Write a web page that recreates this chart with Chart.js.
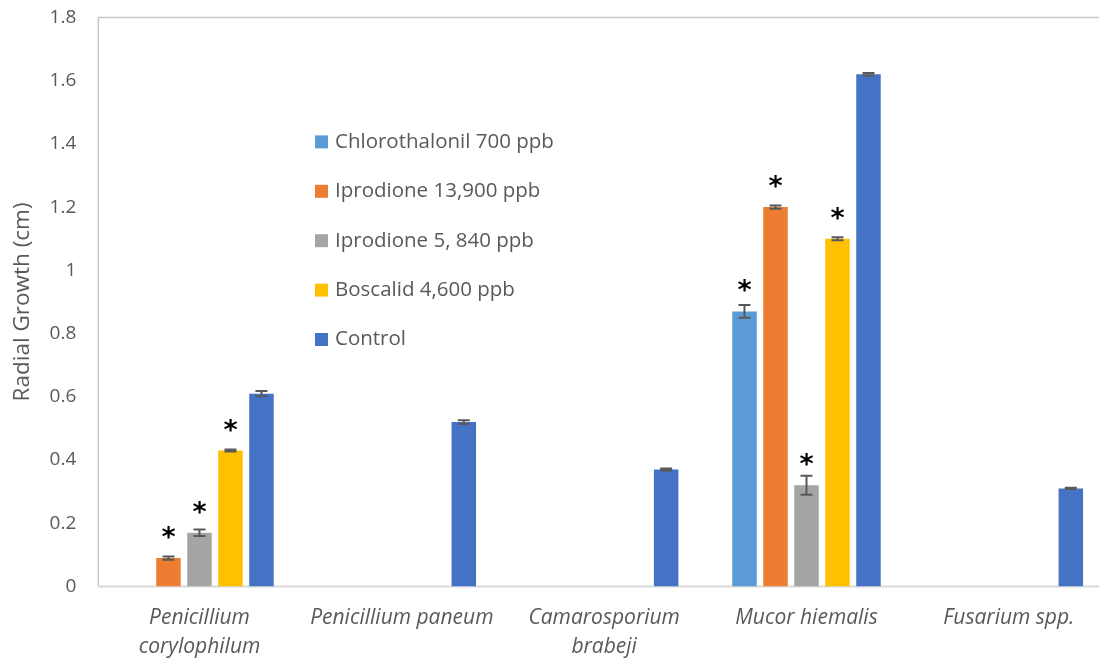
<!DOCTYPE html>
<html>
<head>
<meta charset="utf-8">
<title>Radial Growth</title>
<script src="https://cdn.jsdelivr.net/npm/chart.js@4/dist/chart.umd.min.js"></script>
<style>
	html, body { margin: 0; padding: 0; background: #fff; overflow: hidden; }
	#wrap { width: 1112px; height: 668px; margin-top: -8px; }
</style>
</head>
<body>
<div id="wrap"><canvas id="chart" width="1112" height="668"></canvas></div>
<script>
var categories = [
	["Penicillium", "corylophilum"],
	"Penicillium paneum",
	["Camarosporium", "brabeji"],
	"Mucor hiemalis",
	"Fusarium spp."
];

var seriesNames = [
	"Chlorothalonil 700 ppb",
	"Iprodione 13,900 ppb",
	"Iprodione 5, 840 ppb",
	"Boscalid 4,600 ppb",
	"Control"
];

// mean radial growth (cm), null where the treatment was not tested
var chlorothalonil = [null, null, null, 0.87, null];
var iprodioneHigh = [0.09, null, null, 1.20, null];
var iprodioneLow = [0.17, null, null, 0.32, null];
var boscalid = [0.43, null, null, 1.10, null];
var control = [0.61, 0.52, 0.37, 1.62, 0.31];

// standard error
var chlorothalonilErr = [null, null, null, 0.02, null];
var iprodioneHighErr = [0.005, null, null, 0.005, null];
var iprodioneLowErr = [0.01, null, null, 0.03, null];
var boscalidErr = [0.003, null, null, 0.005, null];
var controlErr = [0.008, 0.006, 0.003, 0.004, 0.002];

// significant difference from control
var chlorothalonilSig = [false, false, false, true, false];
var iprodioneHighSig = [true, false, false, true, false];
var iprodioneLowSig = [true, false, false, true, false];
var boscalidSig = [true, false, false, true, false];
var controlSig = [false, false, false, false, false];

var yTicks = [0, 0.2, 0.4, 0.6, 0.8, 1, 1.2, 1.4, 1.6, 1.8];

var colours = ["#5B9BD5", "#ED7D31", "#A5A5A5", "#FFC000", "#4472C4"];
var FONT = "'Open Sans', sans-serif";
var TEXT = "#595959";

var values = [chlorothalonil, iprodioneHigh, iprodioneLow, boscalid, control];
var errors = [chlorothalonilErr, iprodioneHighErr, iprodioneLowErr, boscalidErr, controlErr];
var stars = [chlorothalonilSig, iprodioneHighSig, iprodioneLowSig, boscalidSig, controlSig];

var errorBars = {
	id: "errorBars",
	afterDatasetsDraw: function (chart) {
		var ctx = chart.ctx;
		var y = chart.scales.y;

		ctx.save();
		chart.data.datasets.forEach(function (ds, i) {
			var meta = chart.getDatasetMeta(i);
			meta.data.forEach(function (bar, j) {
				if (ds.data[j] === null) {
					return;
				}
				var err = ds.errors[j] || 0;
				var top = y.getPixelForValue(ds.data[j] + err);
				var bottom = y.getPixelForValue(ds.data[j] - err);

				ctx.strokeStyle = "#595959";
				ctx.lineWidth = 2;
				ctx.beginPath();
				ctx.moveTo(bar.x, top);
				ctx.lineTo(bar.x, bottom);
				ctx.moveTo(bar.x - 6, top);
				ctx.lineTo(bar.x + 6, top);
				ctx.moveTo(bar.x - 6, bottom);
				ctx.lineTo(bar.x + 6, bottom);
				ctx.stroke();

				if (ds.stars[j]) {
					ctx.fillStyle = "#000";
					ctx.font = "bold 27px 'DejaVu Sans', sans-serif";
					ctx.textAlign = "center";
					ctx.textBaseline = "middle";
					ctx.fillText("*", bar.x, y.getPixelForValue(ds.data[j]) - 19);
				}
			});
		});
		ctx.restore();
	}
};

var plotFrame = {
	id: "plotFrame",
	beforeDatasetsDraw: function (chart) {
		var a = chart.chartArea;
		var ctx = chart.ctx;

		ctx.save();
		ctx.strokeStyle = "#C8C8C8";
		ctx.lineWidth = 1.5;
		ctx.beginPath();
		ctx.moveTo(a.right, a.top);
		ctx.lineTo(a.left, a.top);
		ctx.lineTo(a.left, a.bottom);
		ctx.stroke();
		ctx.strokeStyle = "#D9D9D9";
		ctx.lineWidth = 2;
		ctx.beginPath();
		ctx.moveTo(a.left, a.bottom);
		ctx.lineTo(a.right, a.bottom);
		ctx.stroke();
		ctx.restore();
	}
};

var insideLegend = {
	id: "insideLegend",
	afterDraw: function (chart) {
		var ctx = chart.ctx;
		var top = chart.chartArea.top;

		ctx.save();
		ctx.font = "20.5px " + FONT;
		ctx.textBaseline = "middle";
		ctx.textAlign = "left";
		chart.data.datasets.forEach(function (ds, i) {
			var cy = top + 124.5 + i * 49.4;
			ctx.fillStyle = ds.backgroundColor;
			ctx.fillRect(315, cy - 6.5, 13, 13);
			ctx.fillStyle = TEXT;
			ctx.fillText(ds.label, 335, cy);
		});
		ctx.restore();
	}
};

new Chart(document.getElementById("chart"), {
	type: "bar",
	data: {
		labels: categories,
		datasets: seriesNames.map(function (name, i) {
			return {
				label: name,
				data: values[i],
				errors: errors[i],
				stars: stars[i],
				backgroundColor: colours[i],
				borderWidth: 0,
				categoryPercentage: 0.766,
				barPercentage: 0.79
			};
		})
	},
	options: {
		responsive: false,
		animation: false,
		devicePixelRatio: 1,
		layout: { padding: { top: 0, right: 2, left: 0, bottom: 0 } },
		plugins: {
			legend: { display: false },
			tooltip: { enabled: false }
		},
		scales: {
			x: {
				grid: { display: false },
				border: { display: false },
				ticks: {
					color: TEXT,
					font: { family: FONT, size: 21, style: "italic", lineHeight: 1.38 },
					padding: 9,
					maxRotation: 0,
					autoSkip: false
				},
				afterFit: function (scale) {
					scale.height = 73.5;
				}
			},
			y: {
				min: 0,
				max: 1.8,
				afterBuildTicks: function (scale) {
					scale.ticks = yTicks.map(function (v) {
						return { value: v };
					});
				},
				grid: { display: false },
				border: { display: false },
				ticks: {
					color: TEXT,
					font: { family: FONT, size: 19 },
					padding: 14,
					callback: function (v) {
						return String(Math.round(v * 10) / 10);
					}
				},
				title: {
					display: true,
					text: "Radial Growth (cm)",
					color: TEXT,
					font: { family: FONT, size: 22.5 },
					padding: { top: 9, bottom: 0 }
				},
				afterFit: function (scale) {
					scale.width = 98.3;
				}
			}
		}
	},
	plugins: [plotFrame, errorBars, insideLegend]
});
</script>
</body>
</html>
